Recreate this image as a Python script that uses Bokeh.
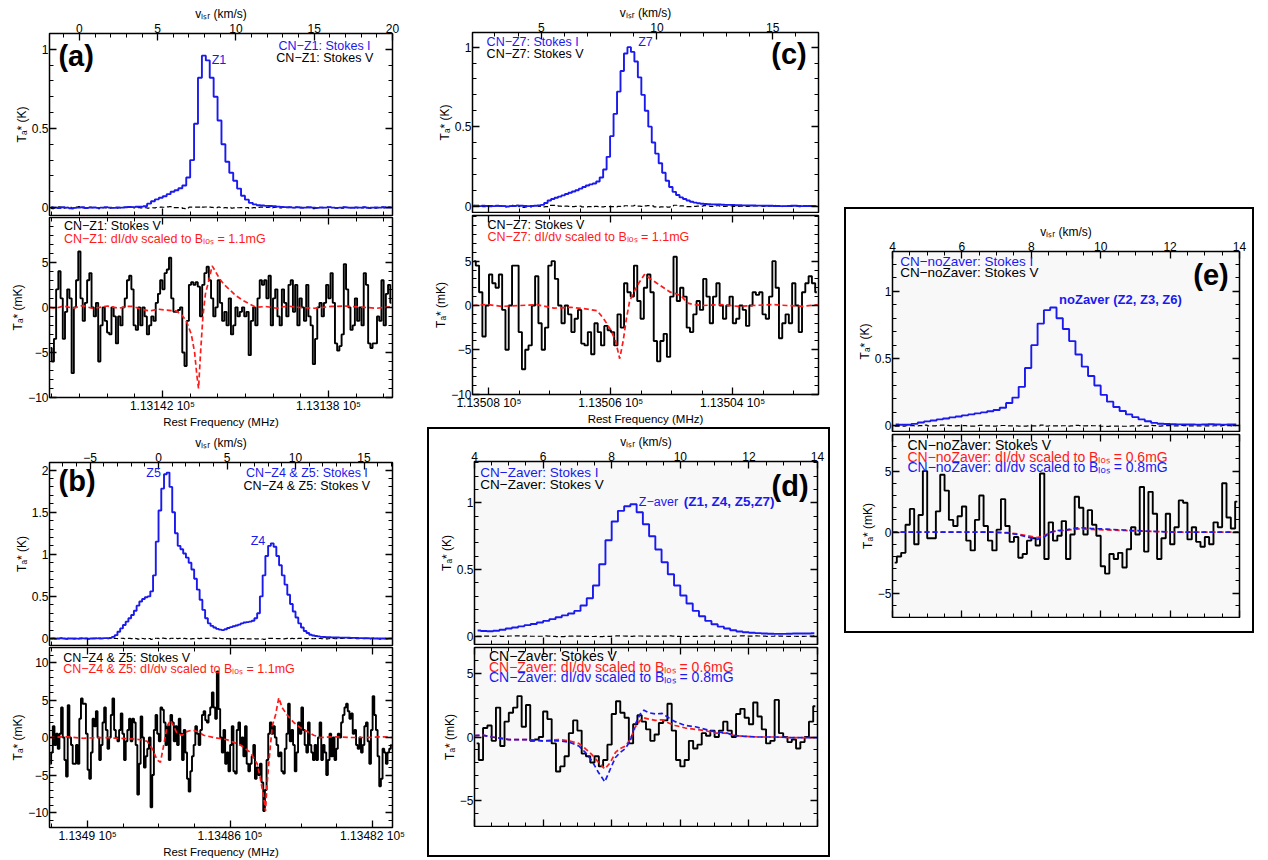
import numpy as np
from bokeh.plotting import figure
from bokeh.models import Range1d, LinearAxis, FixedTicker, CustomJSTickFormatter, Label, Spacer
from bokeh.layouts import row, column
from bokeh.embed import file_html
from bokeh.resources import INLINE

FONT = "Liberation Sans"
BLUE = "#1a1aee"
RED = "#ff1a1a"
VLABEL = "v\u2097\u209b\u1d63 (km/s)"
KLABEL = "T\u2090* (K)"
MKLABEL = "T\u2090* (mK)"
FLABEL = "Rest Frequency (MHz)"

# ---------------- panel (a) ----------------
A_XR = (-1.91, 20.0)
A_YR_TOP = (-0.05, 1.10)
A_YR_BOT = (-10.0, 9.97)
A_FR = (113144.72, 113136.46)
A_I_V0, A_I_DV = -1.8, 0.25
A_I = [0.003, 0.0, -0.003, 0.002, 0.0, -0.004, -0.002, 0.0, 0.002, -0.003, 0.0, 0.001,
       -0.002, 0.0, 0.003, 0.0, -0.002, 0.001, 0.0, 0.002, 0.004, 0.003, 0.005, 0.006,
       0.008, 0.025, 0.04, 0.052, 0.062, 0.072, 0.085, 0.1, 0.11, 0.122, 0.14, 0.19, 0.3,
       0.53, 0.82, 0.96, 0.93, 0.82, 0.7, 0.55, 0.4, 0.29, 0.22, 0.17, 0.12, 0.075, 0.05,
       0.03, 0.02, 0.015, 0.013, 0.011, 0.01,
       0.008, 0.006, 0.004, 0.003, 0.002, 0.0, 0.002, -0.001, 0.0, 0.002, 0.0, -0.002,
       0.001, 0.0, 0.003, 0.0, -0.002, 0.0, 0.002, 0.0, -0.001, 0.001, 0.0, 0.002, -0.002,
       0.0, 0.001, 0.0, 0.002, 0.0, 0.001]
A_V_V0, A_V_DV = -1.839, 0.14135
A_V = [-4.5, -6.0, -3.5, 2.0, 4.0, 1.0, -3.5, -0.5, 2.0, 1.0,
       -7.3, 0.0, 3.0, 6.2, 1.0, -1.5, 0.5, 3.0, 3.8, 0.0,
       -1.0, 0.5, -6.0, -2.0, 0.0, -1.5, -2.8, -3.0, 0.0, -1.0,
       -4.0, -1.0, -2.0, 0.0, 1.0, 3.0, 3.5, 2.0, -2.0, -2.5,
       0.0, -2.0, 0.0, -1.0, -3.0, -2.0, -1.0, -1.5, 0.5, 1.5,
       3.0, 2.0, 3.8, 4.2, 5.5, 1.0, -0.5, -0.5, -0.3, 0.0,
       -5.0, -6.5, -1.5, 2.5, 2.8, 2.5, 2.8, 2.3, -1.0, 2.5,
       3.8, 4.5, 3.0, 1.0, -1.0, 0.0, 3.0, 0.5, -1.5, -0.5,
       -2.0, 1.0, -3.0, -2.0, 0.0, -1.0, -0.5, 0.0, -1.0, -0.5,
       -5.3, -1.5, 0.0, -2.0, 1.0, 3.0, 2.5, 3.0, 1.0, 3.5,
       -2.0, 1.0, 2.0, -1.0, -2.0, 2.0, 0.5, -1.0, 2.5, 3.0,
       -0.5, 2.5, -2.0, 1.0, 0.0, -1.5, 2.5, -1.0, -2.0, -6.3,
       -3.5, 0.0, 0.5, -1.0, 0.5, 2.5, 1.0, 3.8, 0.5, -4.0,
       -4.8, -4.3, -3.0, 4.8, 2.0, 0.0, -2.5, -2.0, 1.0, -1.5,
       0.0, -2.0, 3.8, 2.5, -4.0, -4.5, -4.0, -4.0, -1.0, -1.5,
       3.0, -2.0, 1.5, 2.5, 0.5]
A_MOD_V = [-1.9, -1.5, -1.0, -0.4, 0.2, 0.8, 1.3, 1.8, 2.5, 3.0, 3.45, 3.9, 4.5, 5.0, 5.56,
           6.19, 6.51, 6.83, 7.15, 7.36, 7.5, 7.61, 7.74, 7.89, 8.05, 8.27, 8.48, 8.69, 8.94,
           9.26, 9.58, 10.0, 10.42, 10.85, 11.27, 11.9, 12.6, 13.3, 14.0, 15.0, 16.1, 17.0,
           18.2, 19.0, 20.0]
A_MOD = [0.0, -0.1, 0.15, -0.1, 0.2, -0.1, 0.0, 0.15, -0.1, 0.1, 0.1, -0.2, -0.4, -0.2, -0.3,
         -0.4, -0.8, -1.5, -3.0, -5.0, -7.5, -9.0, -5.0, -1.0, 1.5, 3.0, 4.6, 4.0, 3.2,
         2.5, 2.0, 1.3, 0.8, 0.4, 0.0, 0.1, -0.1, 0.15, 0.0, -0.1, 0.1, 0.15,
         0.0, -0.1, 0.1]
A_VT = [0, 5, 10, 15, 20]
A_VM = [-1, 1, 2, 3, 4, 6, 7, 8, 9, 11, 12, 13, 14, 16, 17, 18, 19]
A_FT = [113142, 113138]
A_FM = [113144.667, 113144, 113143.333, 113142.667, 113141.333, 113140.667, 113140,
        113139.333, 113138.667, 113137.333, 113136.667]

# ---------------- panel (b) ----------------
B_XR = (-7.96, 17.08)
B_YR_TOP = (-0.083, 2.09)
B_YR_BOT = (-12.0, 12.0)
B_FR = (113491.07, 113481.44)
B_I_V0, B_I_DV = -7.9, 0.2
B_I = [0.002, 0.0, -0.002, 0.001, 0.003, 0.0, -0.002, 0.0, 0.002, 0.001, -0.001, 0.0,
       0.002, 0.0, -0.002, 0.001, 0.0, 0.002, 0.003, 0.002, 0.004, 0.005,
       0.008, 0.02, 0.04, 0.08, 0.12, 0.16, 0.2, 0.24, 0.28, 0.33, 0.39, 0.44, 0.47, 0.49,
       0.5, 0.56, 0.75, 1.15, 1.52, 1.78, 1.95, 1.97, 1.8, 1.5, 1.25, 1.1, 1.06, 1.01, 0.96,
       0.9, 0.82, 0.71, 0.58, 0.46, 0.34, 0.24, 0.18, 0.15, 0.13, 0.115, 0.105, 0.1, 0.11,
       0.125, 0.135, 0.145, 0.155, 0.165, 0.18, 0.19, 0.195, 0.2, 0.21, 0.24, 0.3, 0.5,
       0.75, 0.98, 1.1, 1.13, 1.09, 0.98, 0.87, 0.75, 0.64, 0.52, 0.41, 0.32, 0.25, 0.18,
       0.13, 0.09, 0.065, 0.045, 0.035, 0.03, 0.025, 0.02, 0.018,
       0.016, 0.015, 0.014, 0.013, 0.012, 0.011, 0.01, 0.01, 0.009, 0.008, 0.007, 0.006,
       0.005, 0.004, 0.003, 0.003, 0.002, 0.001, 0.0, 0.0, 0.001, 0.0, -0.001, 0.0, 0.001]
B_V_V0, B_V_DV = -7.90, 0.12097
B_V = [-3.5, -2.0, 1.5, -1.0, 0.5, -1.5, 0.5, 4.0, 0.0, -3.0,
       -5.2, 4.3, 0.0, -1.0, -3.5, -3.5, -1.0, -3.5, 2.5, 5.2,
       4.5, 4.5, 0.5, -4.3, -5.5, -2.0, 2.5, 1.5, 3.5, 0.0,
       -3.0, -1.0, 2.0, 4.0, 1.0, -1.5, 0.0, 3.0, 5.2, 1.0,
       0.0, -0.5, 1.0, 3.2, 0.5, -3.0, -0.5, 1.0, 2.5, -0.5,
       2.5, 2.0, -1.0, -7.6, -3.5, 2.8, 0.0, -4.0, -2.5, -1.5,
       0.0, -9.3, -5.0, 1.0, 3.0, 0.5, -0.5, 4.0, 3.7, 2.0,
       -1.0, 1.5, -3.0, 3.0, 2.0, -0.5, 1.5, -1.0, 2.5, 0.5,
       -3.0, 1.0, -2.0, -5.5, -7.2, -4.5, -2.5, -1.0, 1.5, 0.5,
       -1.0, 1.0, 3.0, 3.5, 2.3, 2.0, 3.0, 4.0, 6.0, 4.0,
       2.5, 8.8, 3.8, 0.0, -2.0, 1.0, -3.5, -2.0, -4.5, -1.0,
       1.5, -4.5, -4.8, 1.0, 2.0, -1.0, 0.0, -2.5, 1.5, -3.5,
       -4.5, -3.5, -2.5, -1.0, -5.5, -4.0, -5.0, -3.5, -6.0, -9.8,
       -7.0, -3.0, 0.5, 2.0, 0.5, 1.5, 0.0, -1.0, -2.5, -2.0,
       -4.5, -4.8, -1.5, 0.5, 4.5, -0.5, 1.0, -1.0, -4.5, -2.0,
       2.0, 0.5, 4.0, 1.0, -1.0, -2.0, 2.0, -1.0, -2.0, -3.0,
       -1.0, -3.0, 0.0, 2.0, -3.0, -1.0, -2.0, -5.0, -3.0, 0.5,
       -2.5, 0.0, -3.0, -1.5, 0.5, 0.0, 2.0, 3.0, 4.0, 4.5,
       3.5, 2.5, 3.2, 0.5, 1.0, -1.0, -1.5, 0.0, -2.0, -1.0,
       1.5, 2.0, -0.5, -3.5, 1.0, 5.5, 3.0, 1.0, -2.5, -6.5,
       -5.5, -1.5, -2.0, -3.5, -2.0, -1.5, -1.0]
B_MOD_V = [-7.96, -6.67, -5.5, -4.24, -3.0, -1.81, -1.32, -0.83, -0.46, -0.10, 0.14, 0.38,
           0.63, 0.87, 1.11, 1.36, 1.73, 2.09, 2.46, 2.82, 3.30, 4.03, 5.01, 5.98, 6.71, 7.2,
           7.44, 7.68, 7.81, 7.93, 8.12, 8.3, 8.54, 8.78, 9.02, 9.39, 9.87, 10.36, 10.85,
           11.33, 11.82, 12.79, 14.01, 15.23, 16.44, 17.08]
B_MOD = [0.0, 0.1, -0.1, 0.0, -0.1, -0.2, -0.3, -0.5, -1.5, -3.0, -3.3, -1.0, 1.5, 2.3, 1.5,
         0.5, 0.3, 0.8, 1.0, 0.8, 0.3, 0.0, -0.3, -1.0, -2.0, -3.5, -5.5, -8.0, -9.8, -6.0,
         -2.0, 1.5, 3.0, 5.3, 4.0, 3.0, 2.0, 1.3, 0.8, 0.3, 0.0, 0.1, 0.0, 0.0, 0.1, 0.0]
B_VT = [-5, 0, 5, 10, 15]
B_VM = [-7, -6, -4, -3, -2, -1, 1, 2, 3, 4, 6, 7, 8, 9, 11, 12, 13, 14, 16, 17]
B_FT = [113490, 113486, 113482]
B_FM = [113491, 113489, 113488, 113487, 113485, 113484, 113483]

# ---------------- panel (c) ----------------
C_XR = (2.03, 16.98)
C_YR_TOP = (-0.04, 1.092)
C_YR_BOT = (-10.04, 10.15)
C_FR = (113508.27, 113502.59)
C_I_V0, C_I_DV = 2.05, 0.15
C_I = [0.003, 0.001, 0.0, 0.002, 0.001, -0.001, 0.0, 0.002, 0.001, 0.0, -0.002, 0.0,
       0.001, 0.003, 0.002, 0.001, 0.0, 0.001, 0.002, 0.004,
       0.008, 0.02, 0.035, 0.045, 0.053, 0.06, 0.068, 0.076, 0.084, 0.092,
       0.1, 0.11, 0.12, 0.13, 0.137, 0.142, 0.155, 0.18, 0.23, 0.31,
       0.44, 0.58, 0.72, 0.85, 0.96, 1.0, 0.97, 0.91, 0.81, 0.7,
       0.6, 0.5, 0.4, 0.33, 0.27, 0.21, 0.16, 0.12, 0.09, 0.07,
       0.055, 0.045, 0.035, 0.028, 0.022, 0.018, 0.015,
       0.013, 0.012, 0.011, 0.01, 0.01, 0.009, 0.008, 0.008, 0.007, 0.006, 0.006, 0.005,
       0.005, 0.004, 0.004, 0.003, 0.003, 0.002, 0.002, 0.002, 0.001, 0.001, 0.0, 0.0,
       0.001, 0.002, 0.002, 0.001, 0.0, 0.0, 0.001, 0.0, 0.0]
C_V_V0, C_V_DV = 2.101, 0.14238
C_V = [5.0, 4.5, 1.5, -3.5, 0.0, 3.5, 2.5, 2.0, 3.5, -0.5,
       -5.0, 0.0, 4.5, 4.5, -3.0, -7.2, -5.0, -4.5, 0.0, 3.3,
       -2.0, -5.0, -2.5, 4.5, 5.0, 3.0, 0.0, -2.0, 0.0, -1.0,
       -3.0, -1.5, -0.5, -4.3, -4.5, -3.0, -5.5, -2.0, -3.0, -4.5,
       -2.3, -2.8, -3.0, -4.5, -1.0, -2.5, 2.5, 1.5, 1.0, 4.5,
       0.5, -1.5, 2.0, 3.5, 1.5, -4.0, -6.3, -4.0, -3.2, -5.8,
       1.0, 5.5, 0.5, 2.0, 1.0, -2.5, -3.0, -1.0, 0.5, -0.5,
       3.0, 1.0, -2.0, 1.0, 2.5, 0.0, -1.5, 0.0, 1.0, -2.0,
       -1.5, 0.0, -0.5, -2.3, 0.0, 1.5, 1.2, 1.5, -1.0, -1.5,
       1.0, 5.0, 2.0, -3.7, -2.0, -1.0, -2.0, 2.5, 0.0, -3.0,
       1.5, 2.5, 3.3, 2.5, 1.5]
C_MOD_V = [2.03, 2.68, 3.3, 4.11, 4.8, 5.55, 6.27, 6.99, 7.42, 7.70, 7.99, 8.21, 8.39, 8.54,
           8.68, 8.82, 9.0, 9.21, 9.46, 9.72, 10.0, 10.29, 10.58, 10.87, 11.08, 11.3, 11.59,
           12.01, 12.75, 13.5, 14.17, 15.0, 15.6, 16.3, 16.98]
C_MOD = [0.0, 0.1, -0.1, 0.0, 0.1, -0.3, -0.2, -0.4, -0.6, -1.5, -2.7, -4.0, -6.0, -4.0,
         -1.5, 0.5, 1.5, 2.5, 3.5, 3.0, 2.5, 2.0, 1.5, 1.3, 1.0, 0.3, 0.1,
         0.0, 0.1, -0.1, 0.0, 0.1, 0.0, -0.1, 0.1]
C_VT = [5, 10, 15]
C_VM = [3, 4, 6, 7, 8, 9, 11, 12, 13, 14, 16]
C_FT = [113508, 113506, 113504]
C_FM = [113507.5, 113507, 113506.5, 113505.5, 113505, 113504.5, 113503.5, 113503]

# ---------------- panel (d) ----------------
D_XR = (4.0, 14.0)
D_YR_TOP = (-0.062, 1.31)
D_YR_BOT = (-7.0, 7.0)
D_I_V0, D_I_DV = 4.0909, 0.1818
D_I = [0.043, 0.039, 0.037, 0.041, 0.049, 0.058, 0.066, 0.074, 0.083, 0.092,
       0.103, 0.115, 0.128, 0.142, 0.156, 0.17, 0.19, 0.23, 0.285, 0.38,
       0.54, 0.72, 0.86, 0.94, 0.975, 0.99, 0.93, 0.84, 0.75, 0.65,
       0.555, 0.465, 0.38, 0.305, 0.245, 0.19, 0.15, 0.115, 0.09, 0.072,
       0.058, 0.045, 0.036, 0.03, 0.026, 0.023, 0.021, 0.019, 0.018, 0.018,
       0.019, 0.02, 0.021, 0.021, 0.022]
D_V_V0, D_V_DV = 4.0625, 0.125
D_V = [-0.5, -1.8, 0.7, 0.9, -0.3, 2.3, -0.7, 1.2, 1.9, 2.3,
       3.2, 0.8, 2.5, -0.3, -0.2, 0.0, 2.0, 1.4, -0.5, -2.7,
       -2.3, -1.5, 0.3, 1.3, 0.5, -1.3, -1.5, -2.0, -1.5, -2.3,
       -1.8, -0.6, 1.8, 2.8, 1.9, 1.5, -0.5, 1.0, 1.7, 1.2,
       0.6, -0.3, 0.2, 1.1, 1.3, 2.6, 0.5, -1.8, -2.3, -1.8,
       -0.3, -0.9, -0.6, 0.3, 0.1, 0.5, 0.0, 0.5, 1.2, 0.5,
       0.0, 1.8, 2.2, 1.5, 1.0, 2.7, 1.6, 0.6, -0.5, -0.3,
       2.9, 0.3, 0.0, -0.4, -0.2, -0.9, -0.4, 0.0, 1.2, 2.4]
D_MOD_V = [4.0, 4.22, 4.51, 5.0, 5.49, 5.97, 6.46, 6.75, 7.04, 7.23, 7.43, 7.62, 7.80, 7.96,
           8.11, 8.25, 8.4, 8.54, 8.69, 8.83, 8.94, 9.08, 9.27, 9.47, 9.66, 9.85, 10.15,
           10.44, 10.73, 11.02, 11.31, 11.6, 11.89, 12.28, 12.77, 13.25, 14.0]
D_MOD_R = [0.1, 0.15, 0.0, -0.2, -0.2, -0.3, -0.2, -0.3, -0.5, -0.9, -1.4, -2.0, -2.5, -2.0,
           -1.2, -0.9, -0.7, -0.2, 0.8, 1.3, 1.5, 1.4, 1.3, 1.35, 1.1, 0.9, 0.7,
           0.6, 0.5, 0.3, 0.3, 0.1, 0.05, 0.0, 0.0, -0.05, -0.05]
D_MOD_B = [0.1, 0.15, 0.0, -0.2, -0.2, -0.3, -0.3, -0.4, -0.7, -1.2, -1.9, -2.8, -3.5, -2.5,
           -1.6, -1.2, -0.9, -0.3, 1.0, 1.8, 2.1, 1.9, 1.8, 1.85, 1.5, 1.2, 0.9,
           0.8, 0.6, 0.4, 0.35, 0.1, 0.05, 0.0, 0.0, -0.05, -0.05]

# ---------------- panel (e) ----------------
E_XR = (4.0, 14.0)
E_YR_TOP = (-0.042, 1.296)
E_YR_BOT = (-7.0, 8.0)
E_I_V0, E_I_DV = 4.0909, 0.1818
E_I = [0.01, 0.008, 0.008, 0.015, 0.025, 0.033, 0.04, 0.048, 0.055, 0.063,
       0.07, 0.078, 0.085, 0.093, 0.1, 0.108, 0.118, 0.135, 0.17, 0.21,
       0.29, 0.43, 0.6, 0.76, 0.86, 0.88, 0.8, 0.72, 0.63, 0.53,
       0.44, 0.37, 0.3, 0.23, 0.18, 0.14, 0.11, 0.085, 0.065, 0.048,
       0.034, 0.022, 0.016, 0.014, 0.012, 0.011, 0.01, 0.01, 0.009, 0.01,
       0.012, 0.01, 0.009, 0.01, 0.01]
E_V_V0, E_V_DV = 4.0625, 0.125
E_V = [-2.5, -2.0, -1.7, 0.6, 1.9, -1.0, 1.4, 5.0, -0.5, -0.5,
       1.7, 4.7, 3.4, 1.0, 0.5, 1.3, 2.1, -0.7, -1.5, 1.0,
       3.0, 0.5, -0.7, -1.5, 0.2, 2.7, 0.5, -0.8, -0.4, -2.1,
       -1.8, -0.7, -0.5, -1.1, 4.8, -2.2, 0.8, -0.7, -0.3, 0.9,
       -2.2, -0.2, 2.9, 2.0, -0.2, 1.8, 0.6, -0.3, -2.8, -3.4,
       -1.8, -2.2, -1.7, -2.9, -1.4, 0.4, -0.2, 3.7, -1.6, 3.3,
       1.5, -2.2, -0.5, 1.5, -1.0, 0.4, 2.6, 2.4, -0.6, 0.4,
       -0.8, -1.2, -0.4, -1.0, 0.8, 0.4, 4.0, 1.2, 0.3, 2.5]
E_MOD_V = [4.0, 5.39, 6.83, 7.31, 7.6, 7.89, 8.17, 8.37, 8.56, 8.75, 9.04, 9.23, 9.42, 9.71,
           10.19, 10.67, 11.15, 11.63, 12.11, 14.0]
E_MOD_R = [0.0, 0.0, 0.0, -0.05, -0.15, -0.3, -0.45, -0.3, 0.0, 0.1, 0.15, 0.22, 0.27, 0.22,
           0.18, 0.13, 0.08, 0.04, 0.0, 0.0]
E_MOD_B = [0.0, 0.0, 0.0, -0.07, -0.2, -0.4, -0.6, -0.4, 0.0, 0.13, 0.2, 0.3, 0.36, 0.3,
           0.24, 0.17, 0.1, 0.05, 0.0, 0.0]
DE_VT = [4, 6, 8, 10, 12, 14]
DE_VM = [4.5, 5, 5.5, 6.5, 7, 7.5, 8.5, 9, 9.5, 10.5, 11, 11.5, 12.5, 13, 13.5]

# ---------------- y ticks ----------------
K_T = [0, 0.5, 1]
K_M = [0.1, 0.2, 0.3, 0.4, 0.6, 0.7, 0.8, 0.9, 1.1, 1.2, 1.3]
KB_T = [0, 0.5, 1, 1.5, 2]
KB_M = [0.1, 0.2, 0.3, 0.4, 0.6, 0.7, 0.8, 0.9, 1.1, 1.2, 1.3, 1.4, 1.6, 1.7, 1.8, 1.9]
MK_T10 = [-10, -5, 0, 5]
MK_M10 = [-9, -8, -7, -6, -4, -3, -2, -1, 1, 2, 3, 4, 6, 7, 8, 9, 10]
MK_TB = [-10, -5, 0, 5, 10]
MK_MB = [-12, -11, -9, -8, -7, -6, -4, -3, -2, -1, 1, 2, 3, 4, 6, 7, 8, 9, 11, 12]
MK_T7 = [-5, 0, 5]
MK_M7 = [-7, -6, -4, -3, -2, -1, 1, 2, 3, 4, 6, 7, 8]

NUM_JS = "return String(tick).replace('-', '\\u2212');"
FREQ_JS = "return (tick / 1e5).toFixed(5).replace(/0+$/, '') + ' 10\\u2075';"
BLANK_JS = "return '';"


def vgrid(v0, dv, vals):
    return list(v0 + dv * np.arange(len(vals)))


def make_fig(w, h, b, xr, yr, bg="white"):
    bl, br, bt, bb = b
    p = figure(width=w, height=h, x_range=Range1d(xr[0], xr[1]), y_range=Range1d(yr[0], yr[1]),
               x_axis_location=None, y_axis_location=None, output_backend="svg",
               toolbar_location=None, min_border_left=bl, min_border_right=br,
               min_border_top=bt, min_border_bottom=bb)
    p.grid.visible = False
    p.outline_line_color = "black"
    p.outline_line_width = 1.5
    p.outline_line_alpha = 1.0
    p.background_fill_color = bg
    p.border_fill_color = "white"
    return p


def add_axis(p, side, major, minor, kind, label=None, rname=None, fs="12px", lfs="12px"):
    kw = {}
    if rname:
        kw["x_range_name"] = rname
    ax = LinearAxis(ticker=FixedTicker(ticks=major, minor_ticks=minor), **kw)
    ax.formatter = CustomJSTickFormatter(code={"num": NUM_JS, "freq": FREQ_JS, "blank": BLANK_JS}[kind])
    ax.axis_line_color = None
    ax.major_tick_in = 7
    ax.major_tick_out = 0
    ax.minor_tick_in = 4
    ax.minor_tick_out = 0
    ax.major_tick_line_color = "black"
    ax.minor_tick_line_color = "black"
    ax.major_tick_line_width = 1.3
    ax.minor_tick_line_width = 1.0
    ax.major_label_text_font = FONT
    ax.major_label_text_color = "black"
    if kind == "blank":
        ax.major_label_text_font_size = "0px"
        ax.major_label_standoff = 0
    else:
        ax.major_label_text_font_size = fs
        ax.major_label_standoff = 1
    if label:
        ax.axis_label = label
        ax.axis_label_text_font = FONT
        ax.axis_label_text_font_size = lfs
        ax.axis_label_text_font_style = "normal"
        ax.axis_label_text_color = "black"
        ax.axis_label_standoff = 0
    p.add_layout(ax, side)
    return ax


def txt(p, x, y, s, color="black", size="12.5px", align="left", bold=False, font=FONT):
    p.add_layout(Label(x=x, y=y, text=s, text_color=color, text_font=font,
                       text_font_size=size, text_align=align, text_baseline="middle",
                       text_font_style="bold" if bold else "normal"))


def top_plot(w, h, b, xr, yr, vI, I, vV, V, vt, vm, kt, km, fr=None, ft=None, fm=None, bg="white"):
    p = make_fig(w, h, b, xr, yr, bg)
    p.extra_y_ranges = {"mK": Range1d(yr[0] * 1000, yr[1] * 1000)}
    add_axis(p, "above", vt, vm, "num", label=VLABEL)
    if fr is not None:
        p.extra_x_ranges = {"freq": Range1d(fr[0], fr[1])}
        add_axis(p, "below", ft, fm, "blank", rname="freq")
    else:
        add_axis(p, "below", vt, vm, "blank")
    add_axis(p, "left", kt, km, "num", label=KLABEL)
    add_axis(p, "right", kt, km, "blank")
    p.step(vV, V, y_range_name="mK", mode="center", line_color="black", line_dash="5 3", line_width=1.2)
    p.step(vI, I, mode="center", line_color=BLUE, line_width=1.9)
    return p


def bot_plot(w, h, b, xr, yr, vV, V, mt, mm, fr=None, ft=None, fm=None, vt=None, vm=None, bg="white"):
    p = make_fig(w, h, b, xr, yr, bg)
    if fr is not None:
        p.extra_x_ranges = {"freq": Range1d(fr[0], fr[1])}
        add_axis(p, "above", ft, fm, "blank", rname="freq")
        add_axis(p, "below", ft, fm, "freq", label=FLABEL, rname="freq", fs="12px", lfs="11.5px")
    else:
        add_axis(p, "above", vt, vm, "blank")
        add_axis(p, "below", vt, vm, "blank")
    add_axis(p, "left", mt, mm, "num", label=MKLABEL)
    add_axis(p, "right", mt, mm, "blank")
    p.step(vV, V, mode="center", line_color="black", line_width=1.9)
    return p


# ---- (a) ----
a_top = top_plot(420, 216, (49, 28, 33, 1), A_XR, A_YR_TOP, vgrid(A_I_V0, A_I_DV, A_I), A_I,
                 vgrid(A_V_V0, A_V_DV, A_V), A_V, A_VT, A_VM, K_T, K_M, A_FR, A_FT, A_FM)
txt(a_top, -1.34, 0.956, "(a)", size="29px", bold=True)
txt(a_top, 8.45, 0.93, "Z1", color=BLUE, size="12.5px")
txt(a_top, 18.6, 1.023, "CN\u2212Z1: Stokes I", color=BLUE, align="right")
txt(a_top, 18.77, 0.945, "CN\u2212Z1: Stokes V", align="right")
a_bot = bot_plot(420, 214, (49, 28, 1, 33), A_XR, A_YR_BOT, vgrid(A_V_V0, A_V_DV, A_V), A_V,
                 MK_T10, MK_M10, A_FR, A_FT, A_FM)
a_bot.line(A_MOD_V, A_MOD, line_color=RED, line_dash="5 3", line_width=1.7)
txt(a_bot, -0.99, 9.0, "CN\u2212Z1: Stokes V")
txt(a_bot, -0.99, 7.6, "CN\u2212Z1: dI/d\u03bd scaled to B\u2097\u2092\u209b = 1.1mG", color=RED)

# ---- (b) ----
b_top = top_plot(420, 216, (49, 28, 32, 1), B_XR, B_YR_TOP, vgrid(B_I_V0, B_I_DV, B_I), B_I,
                 vgrid(B_V_V0, B_V_DV, B_V), B_V, B_VT, B_VM, KB_T, KB_M, B_FR, B_FT, B_FM)
txt(b_top, -7.3, 1.87, "(b)", size="29px", bold=True)
txt(b_top, 0.17, 1.97, "Z5", color=BLUE, align="right", size="12.5px")
txt(b_top, 7.79, 1.16, "Z4", color=BLUE, align="right", size="12.5px")
txt(b_top, 15.28, 1.97, "CN\u2212Z4 & Z5: Stokes I", color=BLUE, align="right")
txt(b_top, 15.45, 1.81, "CN\u2212Z4 & Z5: Stokes V", align="right")
b_bot = bot_plot(420, 214, (49, 28, 1, 31), B_XR, B_YR_BOT, vgrid(B_V_V0, B_V_DV, B_V), B_V,
                 MK_TB, MK_MB, B_FR, B_FT, B_FM)
b_bot.line(B_MOD_V, B_MOD, line_color=RED, line_dash="5 3", line_width=1.7)
txt(b_bot, -6.96, 10.6, "CN\u2212Z4 & Z5: Stokes V")
txt(b_bot, -6.96, 9.07, "CN\u2212Z4 & Z5: dI/d\u03bd scaled to B\u2097\u2092\u209b = 1.1mG", color=RED)

# ---- (c) ----
c_top = top_plot(416, 213, (52, 18, 32, 1), C_XR, C_YR_TOP, vgrid(C_I_V0, C_I_DV, C_I), C_I,
                 vgrid(C_V_V0, C_V_DV, C_V), C_V, C_VT, C_VM, K_T, K_M, C_FR, C_FT, C_FM)
txt(c_top, 2.64, 1.03, "CN\u2212Z7: Stokes I", color=BLUE)
txt(c_top, 2.64, 0.958, "CN\u2212Z7: Stokes V")
txt(c_top, 9.19, 1.03, "Z7", color=BLUE, size="12.5px")
txt(c_top, 16.47, 0.958, "(c)", size="29px", bold=True, align="right")
c_bot = bot_plot(416, 214, (52, 18, 2, 29), C_XR, C_YR_BOT, vgrid(C_V_V0, C_V_DV, C_V), C_V,
                 MK_T10, MK_M10, C_FR, C_FT, C_FM)
c_bot.line(C_MOD_V, C_MOD, line_color=RED, line_dash="5 3", line_width=1.7)
txt(c_bot, 2.68, 9.1, "CN\u2212Z7: Stokes V")
txt(c_bot, 2.68, 7.7, "CN\u2212Z7: dI/d\u03bd scaled to B\u2097\u2092\u209b = 1.1mG", color=RED)

# ---- (d) ----
BG = "#f8f8f8"
d_top = top_plot(395, 216, (43, 9, 32, 1), D_XR, D_YR_TOP, vgrid(D_I_V0, D_I_DV, D_I), D_I,
                 vgrid(D_V_V0, D_V_DV, D_V), D_V, DE_VT, DE_VM, K_T, K_M, bg=BG)
txt(d_top, 4.17, 1.225, "CN\u2212Zaver: Stokes I", color=BLUE, size="13.5px")
txt(d_top, 4.17, 1.14, "CN\u2212Zaver: Stokes V", size="13.5px")
txt(d_top, 13.74, 1.13, "(d)", size="29px", bold=True, align="right")
txt(d_top, 8.79, 1.01, "Z\u2212aver", color=BLUE, size="12.5px")
txt(d_top, 10.1, 1.01, "(Z1, Z4, Z5,Z7)", color=BLUE, size="13.5px", bold=True)
d_bot = bot_plot(395, 182, (43, 9, 2, 1), D_XR, D_YR_BOT, vgrid(D_V_V0, D_V_DV, D_V), D_V,
                 MK_T7, MK_M7, vt=DE_VT, vm=DE_VM, bg=BG)
d_bot.line(D_MOD_V, D_MOD_R, line_color=RED, line_dash="5 3", line_width=1.7)
d_bot.line(D_MOD_V, D_MOD_B, line_color=BLUE, line_dash="5 3", line_width=1.7)
txt(d_bot, 4.42, 6.3, "CN\u2212Zaver: Stokes V", size="14px")
txt(d_bot, 4.42, 5.44, "CN\u2212Zaver: dI/d\u03bd scaled to B\u2097\u2092\u209b = 0.6mG", color=RED, size="14px")
txt(d_bot, 4.42, 4.66, "CN\u2212Zaver: dI/d\u03bd scaled to B\u2097\u2092\u209b = 0.8mG", color=BLUE, size="14px")

# ---- (e) ----
e_top = top_plot(402, 223, (44, 11, 42, 1), E_XR, E_YR_TOP, vgrid(E_I_V0, E_I_DV, E_I), E_I,
                 vgrid(E_V_V0, E_V_DV, E_V), E_V, DE_VT, DE_VM, K_T, K_M, bg=BG)
txt(e_top, 4.22, 1.22, "CN\u2212noZaver: Stokes I", color=BLUE, size="13.5px")
txt(e_top, 4.22, 1.14, "CN\u2212noZaver: Stokes V", size="13.5px")
txt(e_top, 13.69, 1.12, "(e)", size="29px", bold=True, align="right")
txt(e_top, 8.8, 0.94, "noZaver (Z2, Z3, Z6)", color=BLUE, size="13px", bold=True)
e_bot = bot_plot(402, 186, (44, 11, 2, 1), E_XR, E_YR_BOT, vgrid(E_V_V0, E_V_DV, E_V), E_V,
                 MK_T7, MK_M7, vt=DE_VT, vm=DE_VM, bg=BG)
e_bot.line(E_MOD_V, E_MOD_R, line_color=RED, line_dash="5 3", line_width=1.7)
e_bot.line(E_MOD_V, E_MOD_B, line_color=BLUE, line_dash="5 3", line_width=1.7)
txt(e_bot, 4.43, 7.14, "CN\u2212noZaver: Stokes V", size="14px")
txt(e_bot, 4.43, 6.18, "CN\u2212noZaver: dI/d\u03bd scaled to B\u2097\u2092\u209b = 0.6mG", color=RED, size="14px")
txt(e_bot, 4.43, 5.36, "CN\u2212noZaver: dI/d\u03bd scaled to B\u2097\u2092\u209b = 0.8mG", color=BLUE, size="14px")

BOX = {"box-shadow": "inset 0 0 0 2px black"}
col1 = column(a_top, a_bot, b_top, b_bot)
d_box = column(Spacer(height=2), row(Spacer(width=4), column(d_top, d_bot), Spacer(width=4)),
               Spacer(height=30), styles=BOX)
col2 = column(c_top, c_bot, row(Spacer(width=7), d_box))
e_box = column(Spacer(height=2), row(Spacer(width=4), column(e_top, e_bot), Spacer(width=4)),
               Spacer(height=15), styles=BOX)
col3 = row(Spacer(width=8), column(Spacer(height=207), e_box))
root = row(col1, col2, col3)

with open("out.html", "w", encoding="utf-8") as f:
    f.write(file_html(root, INLINE))
